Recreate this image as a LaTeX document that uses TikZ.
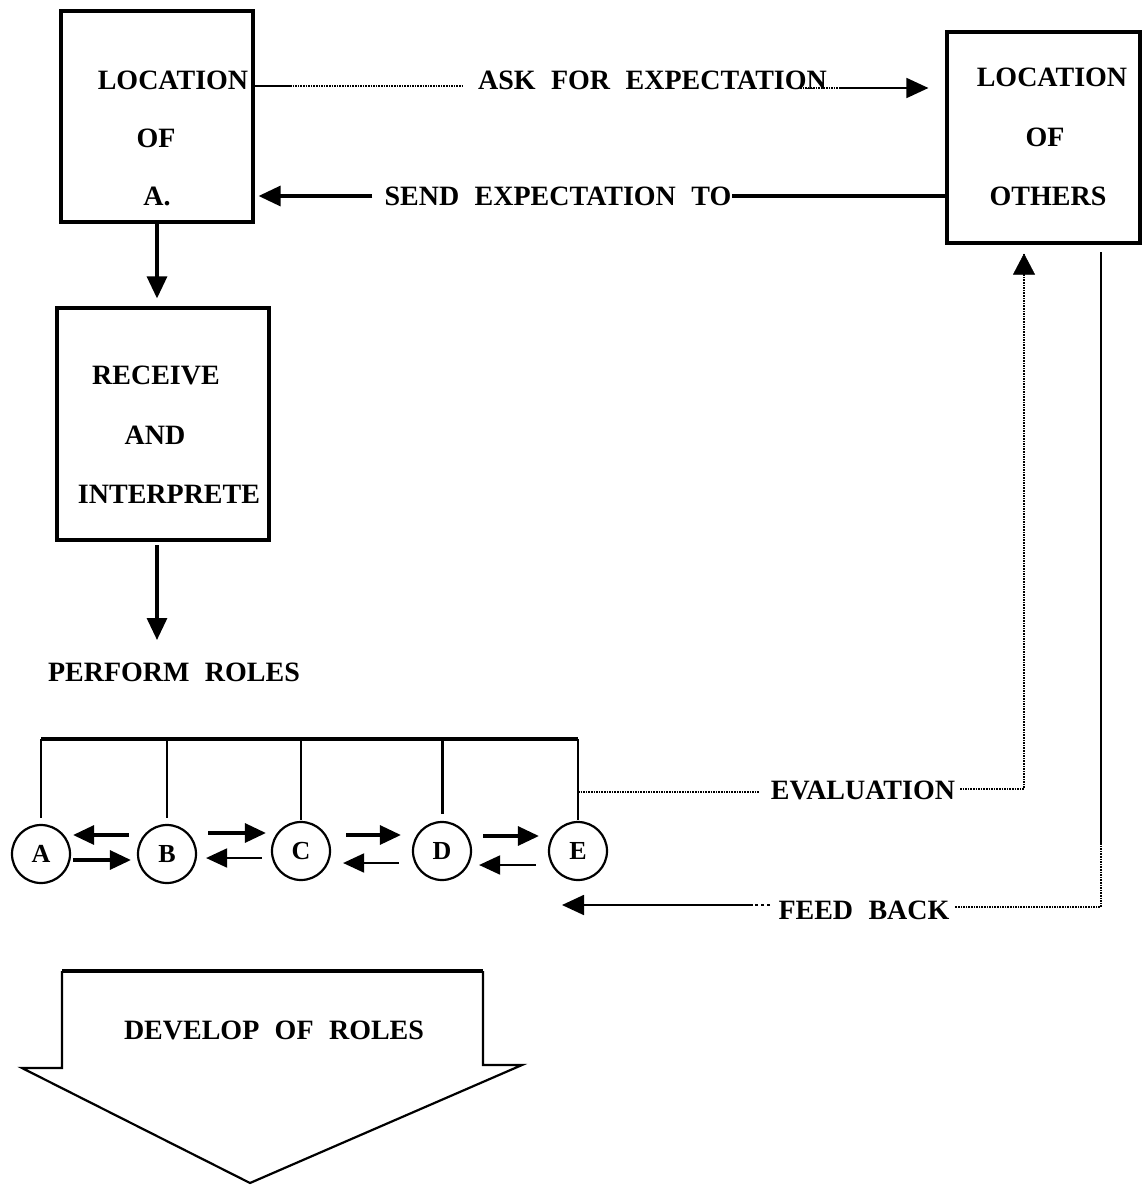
\documentclass[tikz,border=0pt]{standalone}
\usepackage{fontspec}
\setmainfont{Liberation Serif}[WordSpace=2.2]
\usetikzlibrary{arrows.meta}
\begin{document}
\begin{tikzpicture}[x=1pt,y=-1pt,
  lbl/.style={font=\fontsize{28}{30}\selectfont\bfseries, inner sep=0pt},
  boxn/.style={draw, line width=3.2pt, inner sep=0pt},
  circ/.style={draw, circle, line width=2.2pt, minimum size=58pt, inner sep=0pt,
    font=\fontsize{26}{28}\selectfont\bfseries},
  tip/.style={-{Triangle[length=22pt,width=20pt]}},
  stip/.style={-{Triangle[length=21pt,width=19pt]}},
  conn/.style={line width=3.2pt},
  thinconn/.style={line width=2pt},
  dotl/.style={line width=1.6pt, densely dotted},
  solidl/.style={line width=1.8pt}
]
\useasboundingbox (0,0) rectangle (1145,1189);

% boxes
\node[boxn, minimum width=192pt, minimum height=211pt] (boxA) at (157,116.5) {};
\node[boxn, minimum width=193pt, minimum height=211pt] (boxO) at (1043.5,137.5) {};
\node[boxn, minimum width=212pt, minimum height=232pt] (boxR) at (163,424) {};

% box texts
\node[lbl] (a1) at (173,80) {LOCATION};
\node[lbl] (a2) at (156,138) {OF};
\node[lbl] (a3) at (157,196) {A.};
\node[lbl] (o1) at (1052,77) {LOCATION};
\node[lbl] (o2) at (1045,137) {OF};
\node[lbl] (o3) at (1048,196) {OTHERS};
\node[lbl] (r1) at (156,375) {RECEIVE};
\node[lbl] (r2) at (155,435) {AND};
\node[lbl] (r3) at (169,494) {INTERPRETE};
\node[lbl] (perf) at (174,672) {PERFORM ROLES};

% labels on connectors
\node[lbl] (ask) at (652.5,80) {ASK FOR EXPECTATION};
\node[lbl] (send) at (558,196) {SEND EXPECTATION TO};
\node[lbl] (evalt) at (863,790) {EVALUATION};
\node[lbl] (feed) at (864,910) {FEED BACK};

% ask for expectation
\coordinate (askA) at (290,86);
\coordinate (askB) at (463,86);
\coordinate (askC) at (800,88);
\coordinate (askD) at (840,88);
\draw[solidl] (boxA.east |- askA) -- (askA);
\draw[dotl] (askA) -- (askB);
\draw[dotl] (askC) -- (askD);
\draw[solidl, tip] (askD) -- (boxO.west |- askD) [shorten >=17pt];

% send expectation to
\draw[conn] (boxO.west |- send) -- (send.east);
\draw[conn, tip, shorten >=4pt] ([xshift=-12pt]send.west) -- (boxA.east |- send);

% down arrows
\draw[conn, tip] (boxA.south) -- (boxA.south |- boxR.north) [shorten >=8pt];
\coordinate (rb) at (157,545);
\coordinate (pt) at (157,640);
\draw[conn, tip] (rb) -- (pt);

% circles
\node[circ] (cA) at (41,854) {A};
\node[circ] (cB) at (167,854) {B};
\node[circ] (cC) at (301,851) {C};
\node[circ] (cD) at (442,851) {D};
\node[circ] (cE) at (578,851) {E};

% bracket
\coordinate (brL) at (41,739);
\draw[line width=4pt] (brL) -- (cE.north |- brL);
\draw[line width=1.8pt, shorten >=6pt] (cA.north |- brL) -- (cA.north);
\draw[line width=1.8pt, shorten >=6pt] (cB.north |- brL) -- (cB.north);
\draw[line width=1.8pt, shorten >=1pt] (cC.north |- brL) -- (cC.north);
\draw[line width=3pt, shorten >=7pt] (cD.north |- brL) -- (cD.north);
\draw[line width=1.8pt, shorten >=1pt] (cE.north |- brL) -- (cE.north);

% arrows between circles
\draw[conn, stip, shorten <=8pt, shorten >=2pt] (cB.west |- 0,835) -- (cA.east |- 0,835);
\draw[conn, stip, shorten <=2pt, shorten >=6pt] (cA.east |- 0,860) -- (cB.west |- 0,860);
\draw[conn, stip, shorten <=11pt, shorten >=5pt] (cB.east |- 0,833) -- (cC.west |- 0,833);
\draw[thinconn, stip, shorten <=9pt, shorten >=9pt] (cC.west |- 0,858) -- (cB.east |- 0,858);
\draw[conn, stip, shorten <=15pt, shorten >=11pt] (cC.east |- 0,835) -- (cD.west |- 0,835);
\draw[thinconn, stip, shorten <=13pt, shorten >=12pt] (cD.west |- 0,863) -- (cC.east |- 0,863);
\draw[conn, stip, shorten <=11pt, shorten >=9pt] (cD.east |- 0,836) -- (cE.west |- 0,836);
\draw[thinconn, stip, shorten <=12pt, shorten >=7pt] (cE.west |- 0,865) -- (cD.east |- 0,865);

% evaluation
\coordinate (evA) at (578,792);
\coordinate (evB) at (760,792);
\coordinate (evC) at (960,789);
\coordinate (evD) at (1024,789);
\draw[dotl] (evA) -- (evB);
\draw[dotl] (evC) -- (evD) -- (evD |- boxO.south) [shorten >=9pt];
\draw[-{Triangle[length=21pt,width=22pt]}] ([yshift=-30pt]evD |- boxO.south) -- ([yshift=-9pt]evD |- boxO.south);

% feed back
\coordinate (fbA) at (1101,252);
\coordinate (fbB) at (1101,843);
\coordinate (fbC) at (1101,907);
\coordinate (fbD) at (955,907);
\coordinate (fbE) at (770,905);
\coordinate (fbF) at (753,905);
\coordinate (fbT) at (562,905);
\draw[solidl] (fbA) -- (fbB);
\draw[dotl] (fbB) -- (fbC) -- (fbD);
\draw[solidl, dashed] (fbE) -- (fbF);
\draw[solidl, tip] (fbF) -- (fbT);

% develop of roles arrow
\draw[line width=4pt] (62,971) -- (483,971);
\draw[line width=2.2pt, line join=miter] (62,971) -- (62,1068) -- (22,1068) -- (250,1183) -- (522,1065) -- (483,1065) -- (483,971);
\node[lbl] (dev) at (274,1030) {DEVELOP OF ROLES};
\end{tikzpicture}
\end{document}
